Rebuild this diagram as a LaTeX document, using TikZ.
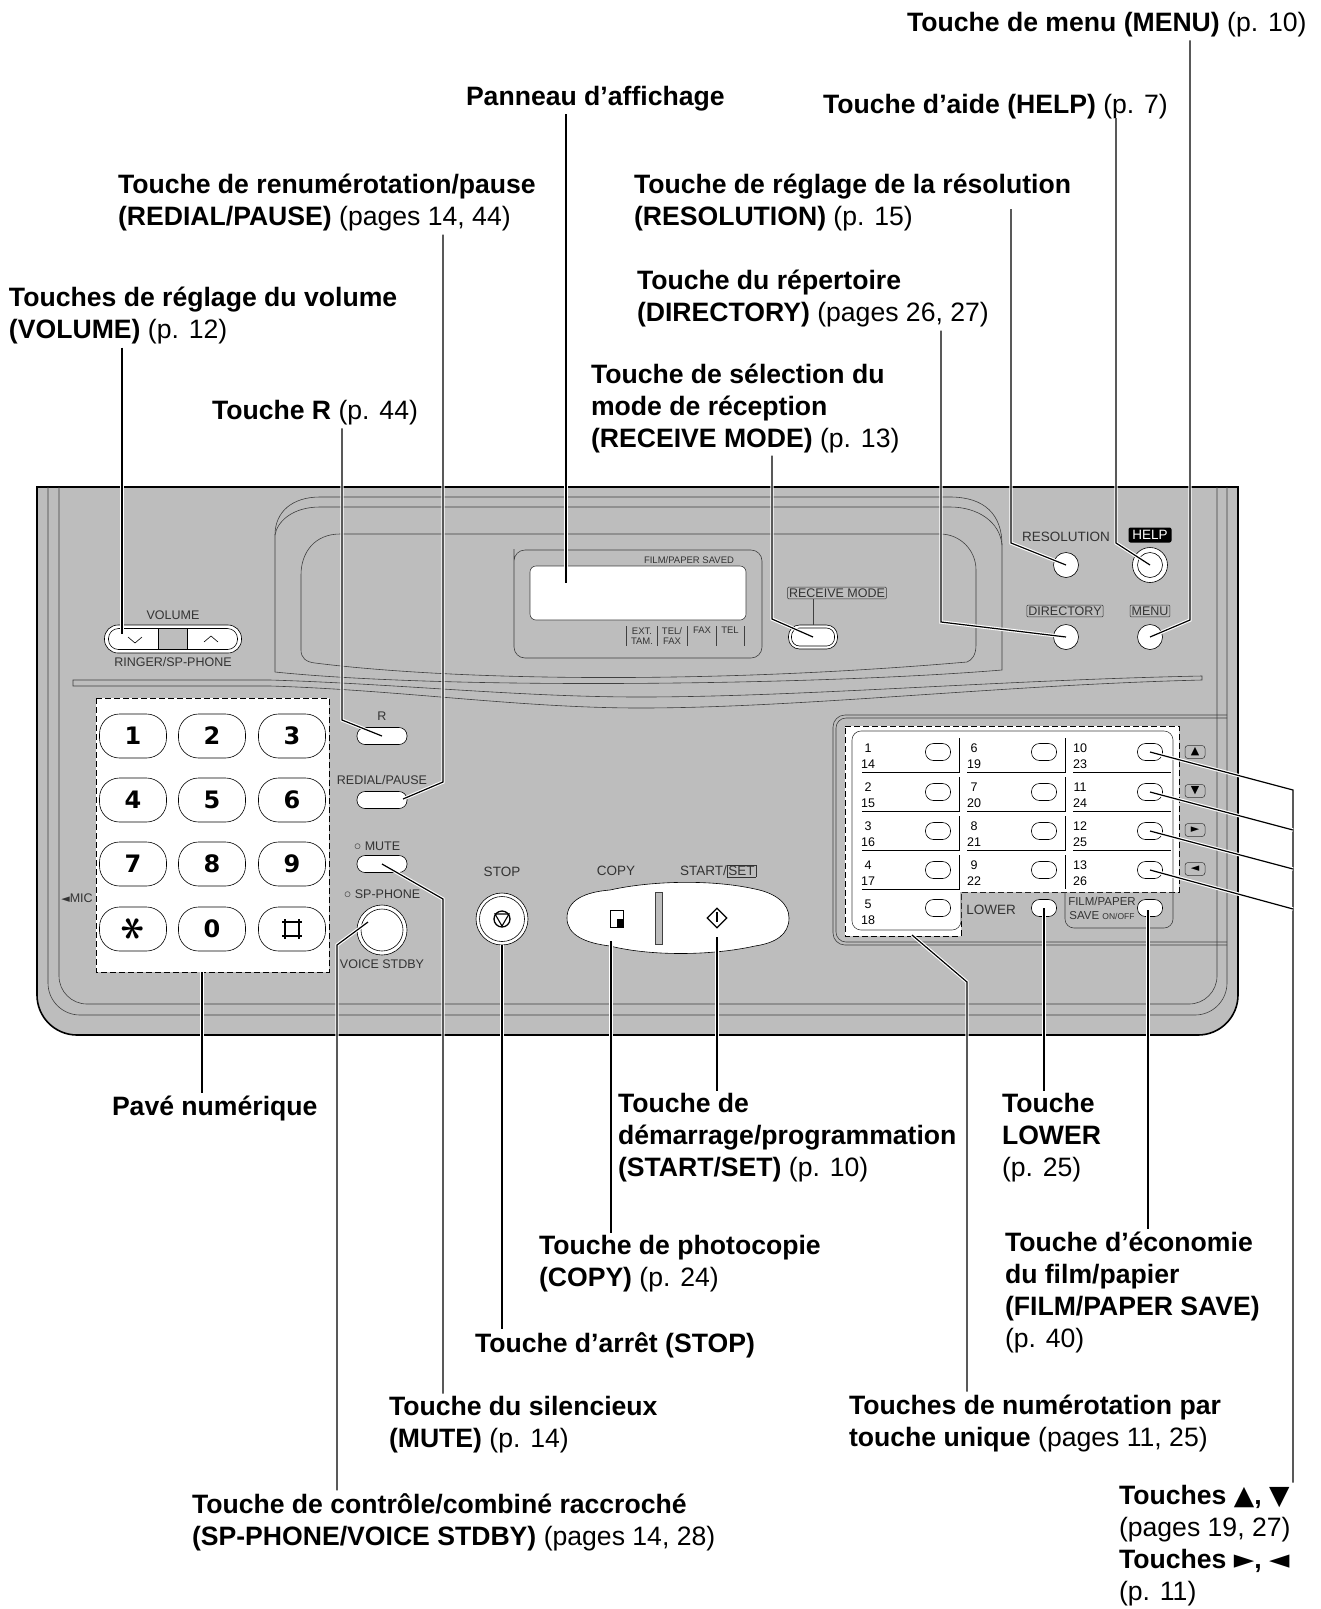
\documentclass[tikz,border=0pt]{standalone}
\usepackage{amsmath,bm}
\usepackage{fontspec}
\setmainfont{Liberation Sans}
\newfontfamily\keyfont{DejaVu Sans}
\usepackage{xcolor}
\usepackage{tikz}
\usetikzlibrary{positioning,calc,shapes.geometric}
\definecolor{panelgray}{gray}{0.74}
\definecolor{printgray}{gray}{0.2}
\setlength{\fboxsep}{1pt}
\setlength{\fboxrule}{0.5pt}

\tikzset{
  lab/.style={font=\fontsize{26.6}{32}\selectfont, align=left, anchor=west, inner sep=0pt, outer sep=3pt},
  lead/.style={draw=black, line width=1.2pt, preaction={draw=white, line width=3.4pt}},
  rim/.style={draw=black!75, line width=0.6pt},
  print/.style={font=\fontsize{12.5}{14}\selectfont, text=printgray, inner sep=0pt, align=center},
  large print/.style={print, font=\fontsize{13.5}{15}\selectfont},
  tiny print/.style={font=\fontsize{9.5}{12}\selectfont, text=printgray, inner sep=0pt, align=center},
  boxed/.style={print, draw=printgray, rounded corners=1pt, inner sep=1.5pt, line width=0.5pt},
  padline/.style={dash pattern=on 6pt off 3pt, line width=1pt},
  keybtn/.style={draw, fill=white, rounded corners=20pt, minimum width=67pt, minimum height=44pt,
                 inner sep=0pt, line width=0.6pt, font=\keyfont\bfseries\fontsize{24}{24}\selectfont},
  softbtn/.style={draw, fill=white, rounded corners=8pt, minimum width=50pt, minimum height=17pt,
                  inner sep=0pt, line width=0.6pt},
  roundbtn/.style={circle, draw, fill=white, minimum size=25pt, inner sep=0pt, line width=0.6pt},
  dialbtn/.style={softbtn, minimum width=25pt},
  dialnum/.style={font=\fontsize{12.5}{16}\selectfont, inner sep=0pt, align=center},
  arrowbtn/.style={draw=printgray, rounded corners=3pt, minimum width=20pt, minimum height=13pt,
                   inner sep=0pt, font=\keyfont\fontsize{11}{11}\selectfont, line width=0.5pt},
}

\begin{document}
\begin{tikzpicture}[x=1pt, y=-1pt]
  \useasboundingbox (0,0) rectangle (1321,1609);

  \draw[fill=panelgray, line width=1.6pt] (37,487) -- (1238,487) [rounded corners=40pt] -- (1238,1035) -- (37,1035) [sharp corners] -- cycle;
  \draw[rim, rounded corners=32pt] (48,487) -- (48,1015) -- (1227,1015) [sharp corners] -- (1227,487);
  \draw[rim, rounded corners=28pt] (59,487) -- (59,1004) -- (1217,1004) [sharp corners] -- (1217,487);

  \draw[rim] (275,672) -- (275,535) .. controls (275,512) and (292,497) .. (320,497) -- (950,497)
             .. controls (985,497) and (1002,515) .. (1002,545) -- (1002,670)
             .. controls (820,685) and (450,690) .. (275,672);
  \draw[rim] (275,535) .. controls (277,522) and (292,507) .. (320,507) -- (950,507)
             .. controls (978,507) and (1000,522) .. (1002,545);
  \draw[rim] (967,662) .. controls (972,660) and (976,655) .. (976,645) -- (976,570)
             .. controls (976,550) and (960,534) .. (940,534) -- (340,534)
             .. controls (315,534) and (301,552) .. (301,575) -- (301,650)
             .. controls (301,658) and (306,662) .. (315,663)
             .. controls (450,680) and (700,685) .. (967,662);
  \draw[rim] (73,680) -- (270,680) .. controls (400,684) and (520,697) .. (640,697)
             .. controls (800,697) and (1000,680) .. (1202,676) -- (1202,680)
             .. controls (1000,685) and (800,708) .. (640,708)
             .. controls (520,708) and (400,690) .. (270,686) -- (73,686) -- cycle;

  \draw[rim, rounded corners=12pt] (1227,715) -- (833,715) -- (833,945) -- (1227,945);
  \draw[rim, rounded corners=10pt] (1227,718) -- (836,718) -- (836,942) -- (1227,942);

  \draw[fill=white, padline] (96,698) rectangle (329,972);
  \draw[fill=white, padline] (845,726) -- (1179,726) -- (1179,892) -- (961,892) -- (961,936) -- (845,936) -- cycle;
  \draw[rim, fill=white, rounded corners=9pt] (961,892) -- (961,930) -- (852,930) -- (852,731) -- (1173,731) -- (1173,892);
  \draw[rim, rounded corners=9pt] (1065,892) -- (1065,928) -- (1173,928) -- (1173,892);
  \draw[rim, black] (862,772) -- (959,772) -- (959,738) (967,772) -- (1065,772) -- (1065,738) (1073,772) -- (1171,772);
  \draw[rim, black] (862,811) -- (959,811) -- (959,777) (967,811) -- (1065,811) -- (1065,777) (1073,811) -- (1171,811);
  \draw[rim, black] (862,850) -- (959,850) -- (959,816) (967,850) -- (1065,850) -- (1065,816) (1073,850) -- (1171,850);
  \draw[rim, black] (862,889) -- (959,889) -- (959,855) (1065,889) -- (1065,855);

  \draw[rim, fill=panelgray] (514,560) [rounded corners=11pt] -- (514,550) -- (762,550) -- (762,658) -- (514,658) -- cycle;
  \draw[rim, fill=white, rounded corners=6pt] (530,566) rectangle (746,620);
  \node[tiny print] (savedtxt) at (689,560) {FILM/PAPER SAVED};
  \draw[rim] (626,626) -- (626,646) (657,626) -- (657,646) (687,626) -- (687,646) (716,626) -- (716,646) (744,626) -- (744,646);
  \node[tiny print] (modeext) at (642,636) {EXT.\\[-1.5pt]TAM.};
  \node[tiny print] (modetel) at (672,636) {TEL/\\[-1.5pt]FAX};
  \node[tiny print] (modefax) at (702,630) {FAX};
  \node[tiny print] (modetel2) at (730,630) {TEL};

  \node[draw, fill=white, rounded corners=13.5pt, minimum width=137pt, minimum height=28pt, line width=0.6pt] (volrim) at (173,639) {};
  \node[draw, fill=white, rounded corners=10pt, minimum width=129pt, minimum height=21pt, inner sep=0pt, line width=0.6pt] (volbtn) at (173,639) {};
  \fill[panelgray] (158,629) rectangle (187,649);
  \draw[rim, black] (158,629) -- (158,649) (187,629) -- (187,649);
  \draw[rim, black] (128,637) -- (135,643) -- (142,637) (204,642) -- (211,636) -- (218,642);
  \node[print] (voltxt) at (173,615) {VOLUME};
  \node[print] (ringtxt) at (173,662) {RINGER/SP-PHONE};

  \node[keybtn] (k1) at (133,736) {1};
  \node[keybtn] (k2) at ($(k1)+(79,0)$) {2};
  \node[keybtn] (k3) at ($(k2)+(80,0)$) {3};
  \node[keybtn] (k4) at ($(k1)+(0,64)$) {4};
  \node[keybtn] (k5) at ($(k4)+(79,0)$) {5};
  \node[keybtn] (k6) at ($(k5)+(80,0)$) {6};
  \node[keybtn] (k7) at ($(k4)+(0,64)$) {7};
  \node[keybtn] (k8) at ($(k7)+(79,0)$) {8};
  \node[keybtn] (k9) at ($(k8)+(80,0)$) {9};
  \node[keybtn] (kstar) at ($(k7)+(0,65)$) {\raisebox{-1pt}{\scalebox{1.9}{\rotatebox{90}{$\bm{\ast}$}}}};
  \node[keybtn] (k0) at ($(kstar)+(79,0)$) {0};
  \node[keybtn] (khash) at ($(k0)+(80,0)$) {};
  \draw[line width=2.2pt] ($(khash)+(-7,-10)$) -- ($(khash)+(-7,10)$)
                          ($(khash)+(7,-10)$) -- ($(khash)+(7,10)$)
                          ($(khash)+(-10,-7)$) -- ($(khash)+(10,-7)$)
                          ($(khash)+(-10,7)$) -- ($(khash)+(10,7)$);
  \node[print] (mictxt) at (77,898) {{\keyfont\fontsize{11}{11}\selectfont ◄}MIC};

  \node[print] (rtxt) at (382,716) {R};
  \node[softbtn] (rbtn) at (382,736) {};
  \node[print] (redialtxt) at (382,780) {REDIAL/PAUSE};
  \node[softbtn] (redialbtn) at (382,800) {};
  \node[print] (mutetxt) at (377,846) {○ MUTE};
  \node[softbtn] (mutebtn) at (382,864) {};
  \node[print] (sptxt) at (382,894) {○ SP-PHONE};
  \node[circle, draw, fill=white, minimum size=50pt, inner sep=0pt, line width=0.6pt] (sprim) at (382,930) {};
  \node[circle, draw, fill=white, minimum size=42pt, inner sep=0pt, line width=0.6pt] (spbtn) at (382,930) {};
  \node[print] (stdbytxt) at (382,964) {VOICE STDBY};

  \node[large print] (stoptxt) at (502,872) {STOP};
  \node[circle, draw, fill=white, minimum size=52pt, inner sep=0pt, line width=0.6pt] (stoprim) at (502,919) {};
  \node[circle, draw, fill=white, minimum size=45pt, inner sep=0pt, line width=0.6pt] (stopbtn) at (502,919) {};
  \draw[line width=1.3pt] (502,919) circle (8);
  \draw[line width=1.1pt] (495,914) -- (509,914) -- (502,926) -- cycle;

  \node[large print] (copytxt) at (616,871) {COPY};
  \node[large print] (starttxt) at (718,871) {START/\fbox{SET}};
  \draw[draw=black, line width=0.6pt, fill=white] (567,918) .. controls (567,900) and (585,892) .. (610,890)
       .. controls (650,881) and (710,879) .. (755,889) .. controls (775,893) and (789,903) .. (789,918)
       .. controls (789,935) and (775,943) .. (755,946) .. controls (710,956) and (650,956) .. (610,946)
       .. controls (585,943) and (567,935) .. (567,918) -- cycle;
  \draw[rim, fill=panelgray] (655,892) rectangle (662,944);
  \node[draw, line width=1.1pt, minimum width=13pt, minimum height=17pt, inner sep=0pt] (copyicon) at (617,919) {};
  \fill (617,919) rectangle (623.5,927.5);
  \node[diamond, draw, line width=1.3pt, minimum size=20pt, inner sep=0pt] at (717,918) (starticon) {};
  \draw[line width=2pt] (717,912) -- (717,922);

  \node[softbtn, minimum height=24pt, minimum width=49pt, rounded corners=11pt] (recvrim) at (813,637) {};
  \node[softbtn, minimum height=18pt, minimum width=43pt] (recvbtn) at (813,637) {};
  \node[boxed] (recvtxt) at (837,593) {RECEIVE MODE};
  \draw[rim] (recvtxt.south -| recvrim) -- (recvrim);

  \node[large print] (restxt) at (1066,537) {RESOLUTION};
  \node[roundbtn] (resbtn) at (1066,565) {};
  \node[fill=black, text=white, rounded corners=2pt, minimum width=43pt, minimum height=15pt, inner sep=0pt,
        font=\fontsize{13.5}{14}\selectfont] (helptxt) at (1150,535) {HELP};
  \node[circle, draw, fill=white, minimum size=35pt, inner sep=0pt, line width=0.6pt] (helprim) at (1150,565) {};
  \node[roundbtn] (helpbtn) at (1150,565) {};
  \node[boxed] (dirtxt) at (1065,611) {DIRECTORY};
  \node[roundbtn] (dirbtn) at (1066,637) {};
  \node[boxed] (menutxt) at (1150,611) {MENU};
  \node[roundbtn] (menubtn) at (1150,637) {};

  \node[dialbtn] (b1) at (938,752) {};
  \node[dialbtn] (b2) at ($(b1)+(0,40)$) {};
  \node[dialbtn] (b3) at ($(b2)+(0,39)$) {};
  \node[dialbtn] (b4) at ($(b3)+(0,39)$) {};
  \node[dialbtn] (b5) at ($(b4)+(0,38)$) {};
  \node[dialbtn] (b6) at ($(b1)+(106,0)$) {};
  \node[dialbtn] (b7) at ($(b2)+(106,0)$) {};
  \node[dialbtn] (b8) at ($(b3)+(106,0)$) {};
  \node[dialbtn] (b9) at ($(b4)+(106,0)$) {};
  \node[dialbtn] (blower) at ($(b5)+(106,0)$) {};
  \node[dialbtn] (b10) at ($(b6)+(106,0)$) {};
  \node[dialbtn] (b11) at ($(b7)+(106,0)$) {};
  \node[dialbtn] (b12) at ($(b8)+(106,0)$) {};
  \node[dialbtn] (b13) at ($(b9)+(106,0)$) {};
  \node[dialbtn] (bfilm) at ($(blower)+(106,0)$) {};

  \node[dialnum] (n1) at (868,756) {1\\14};
  \node[dialnum] (n2) at ($(n1)+(0,39)$) {2\\15};
  \node[dialnum] (n3) at ($(n2)+(0,39)$) {3\\16};
  \node[dialnum] (n4) at ($(n3)+(0,39)$) {4\\17};
  \node[dialnum] (n5) at ($(n4)+(0,39)$) {5\\18};
  \node[dialnum] (n6) at ($(n1)+(106,0)$) {6\\19};
  \node[dialnum] (n7) at ($(n2)+(106,0)$) {7\\20};
  \node[dialnum] (n8) at ($(n3)+(106,0)$) {8\\21};
  \node[dialnum] (n9) at ($(n4)+(106,0)$) {9\\22};
  \node[dialnum] (n10) at ($(n6)+(106,0)$) {10\\23};
  \node[dialnum] (n11) at ($(n7)+(106,0)$) {11\\24};
  \node[dialnum] (n12) at ($(n8)+(106,0)$) {12\\25};
  \node[dialnum] (n13) at ($(n9)+(106,0)$) {13\\26};
  \node[large print] (lowertxt) at (991,910) {LOWER};
  \node[print, font=\fontsize{11.5}{14}\selectfont] (filmtxt) at (1102,908) {FILM/PAPER\\SAVE {\fontsize{8.5}{10}\selectfont ON/OFF}};

  \node[arrowbtn] (aup) at (1195,752) {▲};
  \node[arrowbtn] (adown) at ($(aup)+(0,39)$) {▼};
  \node[arrowbtn] (aright) at ($(adown)+(0,39)$) {►};
  \node[arrowbtn] (aleft) at ($(aright)+(0,39)$) {◄};

  \node[lab] (lmenu) at (904,25) {\textbf{Touche de menu (MENU)} (p. 10)};
  \node[lab] (lhelp) at (820,107) {\textbf{Touche d’aide (HELP)} (p. 7)};
  \node[lab] (ldisplay) at (463,99) {\textbf{Panneau d’affichage}};
  \node[lab] (lredial) at (115,203) {\textbf{Touche de renumérotation/pause}\\\textbf{(REDIAL/PAUSE)} (pages 14, 44)};
  \node[lab] (lres) at (631,203) {\textbf{Touche de réglage de la résolution}\\\textbf{(RESOLUTION)} (p. 15)};
  \node[lab] (ldir) at (634,299) {\textbf{Touche du répertoire}\\\textbf{(DIRECTORY)} (pages 26, 27)};
  \node[lab] (lvol) at (6,316) {\textbf{Touches de réglage du volume}\\\textbf{(VOLUME)} (p. 12)};
  \node[lab] (lrecv) at (588,408) {\textbf{Touche de sélection du}\\\textbf{mode de réception}\\\textbf{(RECEIVE MODE)} (p. 13)};
  \node[lab] (lr) at (209,413) {\textbf{Touche R} (p. 44)};
  \node[lab] (lpad) at (109,1108) {\textbf{Pavé numérique}};
  \node[lab] (lstart) at (615,1138) {\textbf{Touche de}\\\textbf{démarrage/programmation}\\\textbf{(START/SET)} (p. 10)};
  \node[lab] (llower) at (999,1138) {\textbf{Touche}\\\textbf{LOWER}\\(p. 25)};
  \node[lab] (lcopy) at (536,1264) {\textbf{Touche de photocopie}\\\textbf{(COPY)} (p. 24)};
  \node[lab] (lfilm) at (1002,1292) {\textbf{Touche d’économie}\\\textbf{du film/papier}\\\textbf{(FILM/PAPER SAVE)}\\(p. 40)};
  \node[lab] (lstop) at (472,1345) {\textbf{Touche d’arrêt (STOP)}};
  \node[lab] (lmute) at (386,1425) {\textbf{Touche du silencieux}\\\textbf{(MUTE)} (p. 14)};
  \node[lab] (ldial) at (846,1423) {\textbf{Touches de numérotation par}\\\textbf{touche unique} (pages 11, 25)};
  \node[lab] (lsp) at (189,1522) {\textbf{Touche de contrôle/combiné raccroché}\\\textbf{(SP-PHONE/VOICE STDBY)} (pages 14, 28)};
  \node[lab] (larrows) at (1116,1546) {\textbf{Touches {\keyfont ▲}, {\keyfont ▼}}\\(pages 19, 27)\\\textbf{Touches {\keyfont ►}, {\keyfont ◄}}\\(p. 11)};

  \coordinate (cmenu) at (1190,620);
  \coordinate (chelp0) at (1116,118);
  \coordinate (chelp) at (1116,543);
  \coordinate (cdisplay) at (566,583);
  \coordinate (cres0) at (1011,209);
  \coordinate (cres) at (1011,543);
  \coordinate (cdir) at (941,622);
  \coordinate (credial) at (443,782);
  \coordinate (credial1) at (403,799);
  \coordinate (cr) at (342,720);
  \coordinate (crecv) at (772,619);
  \coordinate (cvol) at (122,634);
  \coordinate (cpad) at (202,972);
  \coordinate (csp0) at (368,922);
  \coordinate (csp) at (337,945);
  \coordinate (cmute) at (443,899);
  \coordinate (cstop) at (502,945);
  \coordinate (ccopy) at (611,941);
  \coordinate (cstart) at (717,937);
  \coordinate (cfilm) at (1148,910);
  \coordinate (cdial0) at (912,935);
  \coordinate (cdial) at (967,982);
  \coordinate (ctop) at (1293,790);
  \coordinate (c11) at (1293,830);
  \coordinate (c12) at (1293,869);
  \coordinate (c13) at (1293,909);

  \draw[lead] (lmenu.south -| cmenu) -- (cmenu) -- (menubtn.center);
  \draw[lead] (chelp0) -- (chelp) -- (helpbtn.center);
  \draw[lead] (ldisplay.south -| cdisplay) -- (cdisplay);
  \draw[lead] (cres0) -- (cres) -- (resbtn.center);
  \draw[lead] (ldir.south -| cdir) -- (cdir) -- (dirbtn.center);
  \draw[lead] (lredial.south -| credial) -- (credial) -- (credial1);
  \draw[lead] (lr.south -| cr) -- (cr) -- (rbtn.center);
  \draw[lead] (lrecv.south -| crecv) -- (crecv) -- (recvbtn.center);
  \draw[lead] (lvol.south -| cvol) -- (cvol);
  \draw[lead] (cpad) -- (lpad.north -| cpad);
  \draw[lead] (csp0) -- (csp) -- (lsp.north -| csp);
  \draw[lead] (mutebtn.center) -- (cmute) -- (lmute.north -| cmute);
  \draw[lead] (cstop) -- (lstop.north -| cstop);
  \draw[lead] (ccopy) -- (lcopy.north -| ccopy);
  \draw[lead] (cstart) -- (lstart.north -| cstart);
  \draw[lead] (blower.center) -- (llower.north -| blower);
  \draw[lead] (cfilm) -- (lfilm.north -| cfilm);
  \draw[lead] (cdial0) -- (cdial) -- (ldial.north -| cdial);
  \draw[lead] (b10.center) -- (ctop) -- (larrows.north -| ctop);
  \draw[lead] (b11.center) -- (c11);
  \draw[lead] (b12.center) -- (c12);
  \draw[lead] (b13.center) -- (c13);
\end{tikzpicture}
\end{document}
